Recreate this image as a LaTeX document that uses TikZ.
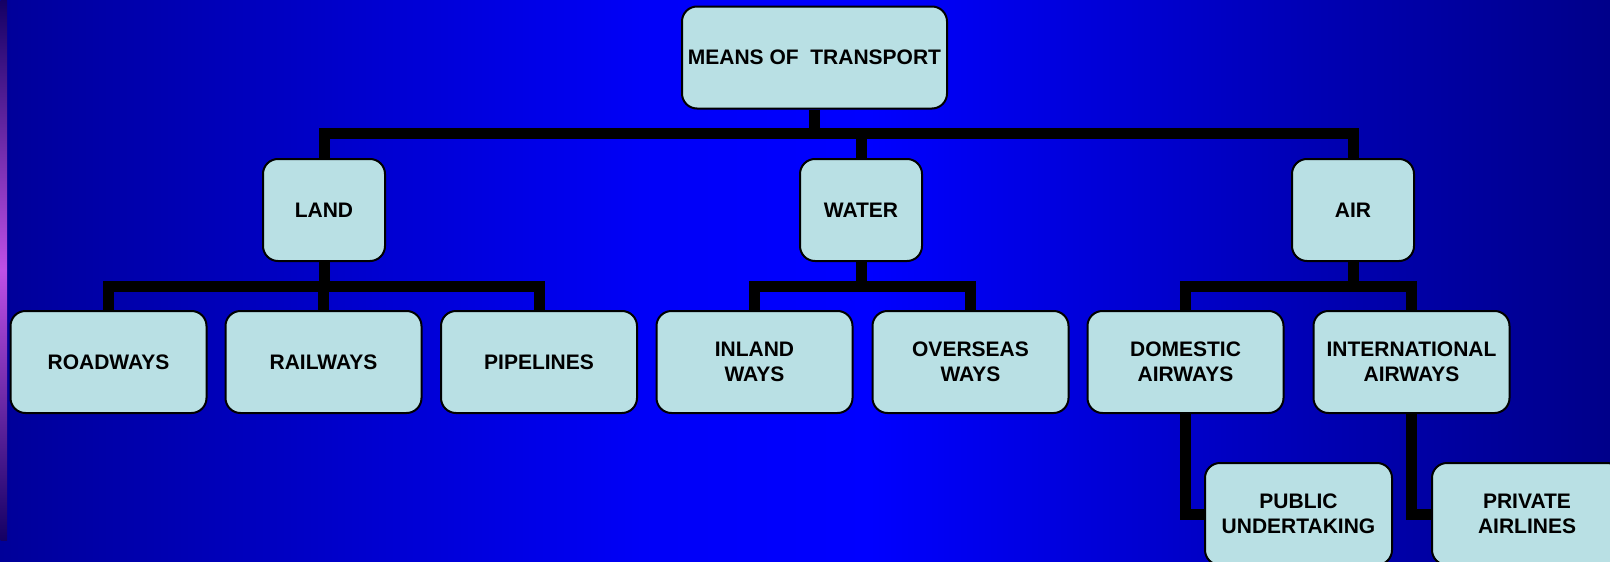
\documentclass[tikz,border=0pt]{standalone}
\usepackage{fontspec}
\setmainfont{Liberation Sans}
\pgfdeclarehorizontalshading{bgsh}{100bp}{rgb(0bp)=(0.06,0,0.36); rgb(4bp)=(0.02,0,0.42); rgb(12bp)=(0,0,0.48); rgb(25bp)=(0,0,0.60); rgb(45bp)=(0,0,0.97); rgb(52bp)=(0,0,1); rgb(66bp)=(0,0,0.70); rgb(80bp)=(0,0,0.45); rgb(92bp)=(0,0,0.30); rgb(100bp)=(0,0,0.17)}
\definecolor{boxfill}{RGB}{185,224,228}
\definecolor{navy}{RGB}{20,0,100}
\definecolor{stripe}{RGB}{190,80,230}
\tikzset{
  tbox/.style={draw=black, line width=2pt, fill=boxfill, rounded corners=15pt,
    minimum height=102pt, inner sep=0pt, align=center,
    font=\fontsize{21}{25.5}\selectfont\bfseries},
  conn/.style={line width=11pt, draw=black, line join=miter}
}
\begin{document}
\begin{tikzpicture}[x=1pt, y=-1pt]
\useasboundingbox (0,0) rectangle (1610,562);
\shade[shading=bgsh] (0,0) rectangle (1610,562);
\shade[top color=navy, bottom color=navy, middle color=stripe] (0.5,0) rectangle (7,540);
% level 0
\node[tbox, minimum width=265pt] (top) at (814.5,57.5) {MEANS OF\ \ TRANSPORT};
% level 1
\node[tbox, minimum width=122pt] (land) at (324,210) {LAND};
\node[tbox, minimum width=122pt] (water) at (861,210) {WATER};
\node[tbox, minimum width=122pt] (air) at (1353,210) {AIR};
% level 2
\node[tbox, minimum width=196pt] (road) at (108.5,362) {ROADWAYS};
\node[tbox, minimum width=196pt] (rail) at (323.5,362) {RAILWAYS};
\node[tbox, minimum width=196pt] (pipe) at (539,362) {PIPELINES};
\node[tbox, minimum width=196pt] (inland) at (754.5,362) {INLAND\\WAYS};
\node[tbox, minimum width=196pt] (over) at (970.5,362) {OVERSEAS\\WAYS};
\node[tbox, minimum width=196pt] (dom) at (1185.5,362) {DOMESTIC\\AIRWAYS};
\node[tbox, minimum width=196pt] (intl) at (1411.5,362) {INTERNATIONAL\\AIRWAYS};
% level 3
\node[tbox, minimum width=187pt] (pub) at (1298.5,514) {PUBLIC\\UNDERTAKING};
\node[tbox, minimum width=190pt] (priv) at (1527,514) {PRIVATE\\AIRLINES};
% bar levels
\coordinate (b1) at (0,133.5);
\coordinate (b2) at (0,286);
% connectors
\draw[conn] (top.south) -- (top.south |- b1);
\draw[conn] (land.north) -- (land.north |- b1) -- (air.north |- b1) -- (air.north);
\draw[conn] (water.north) -- (water.north |- b1);
\draw[conn] (land.south) -- (land.south |- b2);
\draw[conn] (road.north) -- (road.north |- b2) -- (pipe.north |- b2) -- (pipe.north);
\draw[conn] (rail.north) -- (rail.north |- b2);
\draw[conn] (water.south) -- (water.south |- b2);
\draw[conn] (inland.north) -- (inland.north |- b2) -- (over.north |- b2) -- (over.north);
\draw[conn] (air.south) -- (air.south |- b2);
\draw[conn] (dom.north) -- (dom.north |- b2) -- (intl.north |- b2) -- (intl.north);
\draw[conn] (dom.south) |- (pub.west);
\draw[conn] (intl.south) |- (priv.west);
\end{tikzpicture}
\end{document}
